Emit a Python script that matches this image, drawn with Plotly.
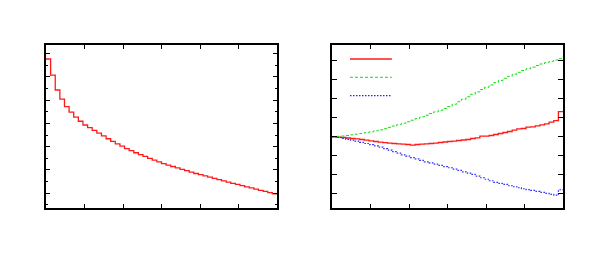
import plotly.graph_objects as go

# ---- data ----
n_bins = 50
bin_width = 0.06
bin_edges = [round(i * bin_width, 4) for i in range(n_bins + 1)]

left_values = [6.76, 6.07, 5.43, 5.04, 4.72, 4.48, 4.27, 4.09, 3.93, 3.82,
               3.70, 3.58, 3.46, 3.34, 3.23, 3.12, 3.02, 2.92, 2.83, 2.74,
               2.66, 2.58, 2.50, 2.42, 2.35, 2.27, 2.21, 2.15, 2.09, 2.03,
               1.97, 1.91, 1.85, 1.80, 1.75, 1.69, 1.64, 1.59, 1.53, 1.48,
               1.43, 1.38, 1.33, 1.28, 1.23, 1.18, 1.13, 1.08, 1.03, 0.98]

red_values = [-0.17, -0.35, -0.52, -0.79, -1.05, -1.22, -1.57, -1.92, -2.27, -2.62,
              -2.97, -3.23, -3.49, -3.66, -3.84, -4.01, -4.19, -4.54, -4.19, -4.01,
              -3.84, -3.66, -3.49, -3.14, -2.88, -2.62, -2.44, -2.09, -1.83, -1.57,
              -1.05, -0.70, 0.17, 0.17, 0.52, 1.05, 1.57, 2.09, 2.62, 3.32,
              4.01, 4.19, 4.89, 5.06, 5.58, 6.11, 6.63, 7.50, 8.38, 13.09]

green_values = [0.00, 0.09, 0.26, 0.52, 0.87, 1.22, 1.57, 2.01, 2.44, 2.97,
                3.49, 4.10, 4.80, 5.50, 6.19, 6.98, 7.77, 8.55, 9.42, 10.30,
                11.17, 12.04, 12.91, 13.79, 14.75, 15.71, 16.93, 18.24, 19.55, 20.85,
                22.16, 23.38, 24.61, 25.83, 27.05, 28.27, 29.41, 30.54, 31.59, 32.64,
                33.68, 34.64, 35.51, 36.39, 37.26, 38.04, 38.74, 39.44, 40.14, 40.84]

blue_values = [-0.17, -0.52, -1.05, -1.48, -1.92, -2.44, -3.05, -3.66, -4.28, -4.89,
               -5.58, -6.37, -7.15, -7.94, -8.73, -9.60, -10.30, -11.08, -11.78, -12.56,
               -13.26, -13.87, -14.48, -15.18, -15.79, -16.40, -17.10, -17.80, -18.50, -19.20,
               -19.90, -20.77, -21.64, -22.42, -23.21, -24.08, -24.61, -25.13, -25.83, -26.35,
               -26.87, -27.40, -27.83, -28.27, -28.79, -29.32, -29.84, -30.37, -30.71, -27.92]


def step(vals):
    return bin_edges, list(vals) + [vals[-1]]


fig = go.Figure()

x, y = step(left_values)
fig.add_trace(go.Scatter(x=x, y=y, mode="lines", line=dict(shape="hv", color="#ff1a1a", width=1.3),
                         xaxis="x", yaxis="y", showlegend=False))

x, y = step(red_values)
fig.add_trace(go.Scatter(x=x, y=y, mode="lines", line=dict(shape="hv", color="#ff1a1a", width=1.3),
                         xaxis="x2", yaxis="y2", showlegend=False))
x, y = step(green_values)
fig.add_trace(go.Scatter(x=x, y=y, mode="lines", line=dict(shape="hv", color="#11dd11", width=1, dash="3px,2px"),
                         xaxis="x2", yaxis="y2", showlegend=False))
x, y = step(blue_values)
fig.add_trace(go.Scatter(x=x, y=y, mode="lines", line=dict(shape="hv", color="#2222ff", width=1.2, dash="1.5px,1.5px"),
                         xaxis="x2", yaxis="y2", showlegend=False))

# legend samples (no text in the reference)
legend_y = [0.914, 0.802, 0.689]
legend_styles = [dict(color="#ff1a1a", width=1.3),
                 dict(color="#11dd11", width=1, dash="3px,2px"),
                 dict(color="#2222ff", width=1.2, dash="1.5px,1.5px")]
for ly, st in zip(legend_y, legend_styles):
    fig.add_shape(type="line", xref="paper", yref="paper", x0=0.588, x1=0.669, y0=ly, y1=ly, line=st)

axis_common = dict(showline=True, linecolor="black", linewidth=2, mirror="ticks",
                   ticks="inside", tickcolor="black", tickwidth=1, showticklabels=False,
                   showgrid=False, zeroline=False)

fig.update_layout(
    width=591, height=256,
    margin=dict(l=38, r=36, t=37, b=56),
    paper_bgcolor="white", plot_bgcolor="white",
    xaxis=dict(domain=[0, 0.4468], range=[0, 3], dtick=0.5, tick0=0, ticklen=4, anchor="y", **axis_common),
    yaxis=dict(range=[0.37, 7.36], dtick=1, tick0=0, ticklen=4, anchor="x",
               minor=dict(dtick=0.5, tick0=0, ticks="inside", ticklen=2, tickcolor="black", tickwidth=1, showgrid=False),
               **axis_common),
    xaxis2=dict(domain=[0.5532, 1], range=[0, 3], dtick=0.5, tick0=0, ticklen=4, anchor="y2", **axis_common),
    yaxis2=dict(range=[-37.5, 48], dtick=10, tick0=0, ticklen=5, anchor="x2", **axis_common),
)

fig.write_html("out.html")
